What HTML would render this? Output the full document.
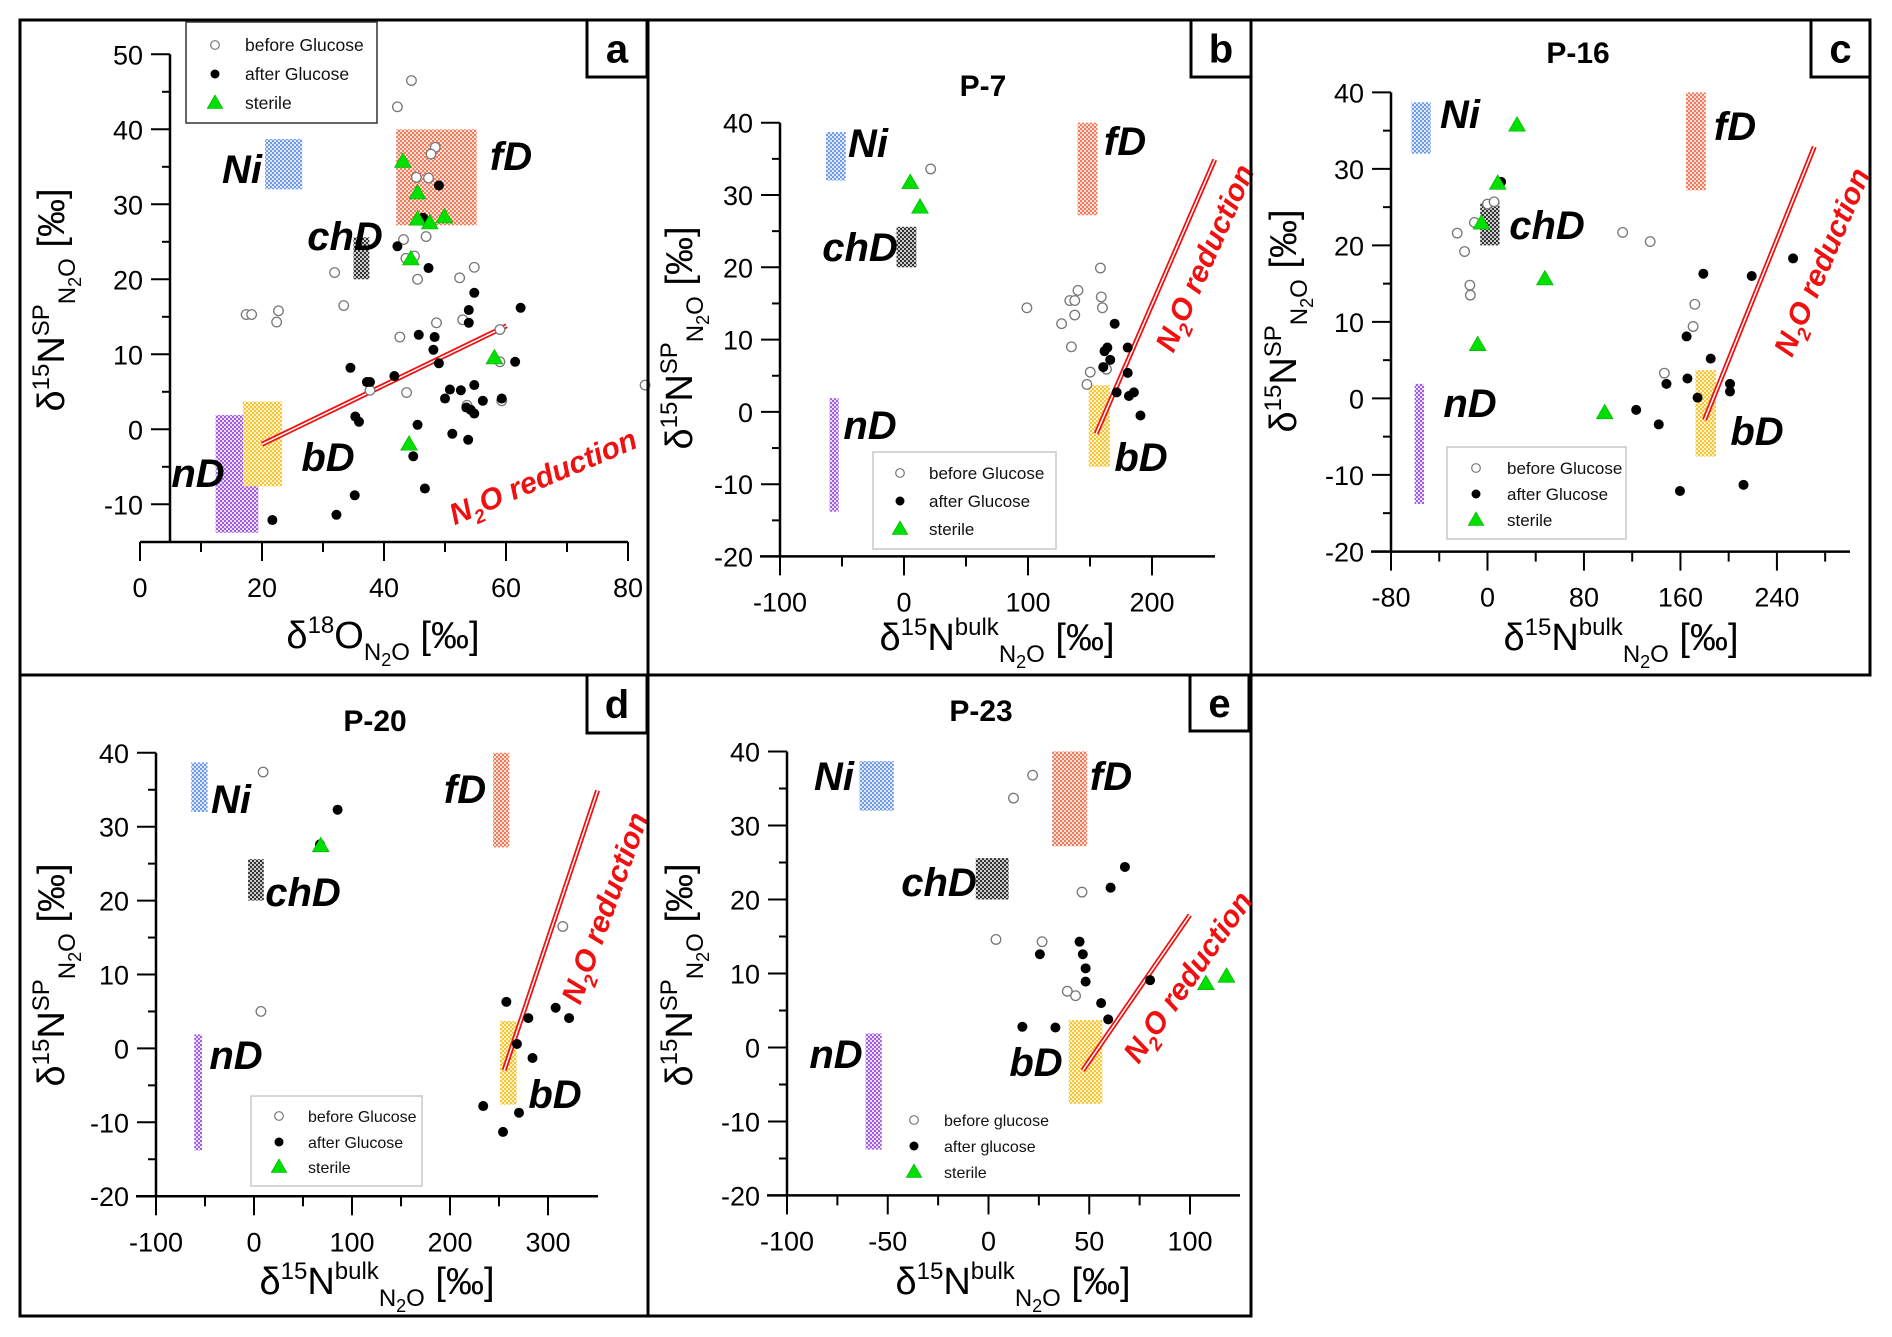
<!DOCTYPE html>
<html><head><meta charset="utf-8"><style>
html,body{margin:0;padding:0;background:#fff;}
svg{display:block;font-family:"Liberation Sans",Arial,sans-serif;}
</style></head><body>
<svg id="fig" width="1892" height="1337" viewBox="0 0 1892 1337" xmlns="http://www.w3.org/2000/svg">
<defs>
<pattern id="pNi" width="4" height="4" patternUnits="userSpaceOnUse"><rect width="4" height="4" fill="#dfe9fb"/><rect width="2" height="2" fill="#6f9ae8"/><rect x="2" y="2" width="2" height="2" fill="#6f9ae8"/></pattern>
<pattern id="pfD" width="4" height="4" patternUnits="userSpaceOnUse"><rect width="4" height="4" fill="#fbe0d8"/><rect width="2" height="2" fill="#f07a5a"/><rect x="2" y="2" width="2" height="2" fill="#f07a5a"/></pattern>
<pattern id="pchD" width="4" height="4" patternUnits="userSpaceOnUse"><rect width="4" height="4" fill="#ccc"/><rect width="2" height="2" fill="#333"/><rect x="2" y="2" width="2" height="2" fill="#333"/></pattern>
<pattern id="pnD" width="4" height="4" patternUnits="userSpaceOnUse"><rect width="4" height="4" fill="#eadcf8"/><rect width="2" height="2" fill="#a05ee0"/><rect x="2" y="2" width="2" height="2" fill="#a05ee0"/></pattern>
<pattern id="pbD" width="4" height="4" patternUnits="userSpaceOnUse"><rect width="4" height="4" fill="#fdf1c8"/><rect width="2" height="2" fill="#f5c535"/><rect x="2" y="2" width="2" height="2" fill="#f5c535"/></pattern>
</defs>
<g id="root"></g>
</svg>
<script>
// ---------- data (x, y) per panel ----------
const aBefore = [[44.5,46.5],[42.2,43.0],[48.4,37.6],[47.7,36.7],[45.3,33.6],[47.3,33.5],[43.2,25.3],[46.9,25.7],[43.6,22.8],[45.0,23.1],[45.5,20.0],[31.9,20.9],[52.4,20.2],[54.8,21.6],[17.4,15.3],[18.3,15.3],[22.7,15.8],[22.4,14.3],[33.4,16.5],[48.6,14.2],[52.9,14.6],[42.6,12.3],[59.0,13.3],[59.0,9.0],[43.7,4.9],[59.3,3.8],[53.6,3.2],[37.7,5.2],[82.8,5.9]];
const aAfter = [[49.0,32.5],[46.4,28.2],[42.2,24.4],[47.3,21.5],[54.8,18.2],[53.9,15.9],[53.9,14.2],[62.4,16.2],[45.7,12.6],[48.3,12.3],[48.1,10.6],[49.0,8.8],[34.5,8.2],[41.7,7.1],[37.2,6.3],[37.7,6.3],[61.5,9.0],[50.8,5.3],[52.6,5.2],[50.0,4.1],[54.8,5.9],[56.2,3.8],[59.3,4.1],[53.5,2.9],[54.2,2.6],[54.8,2.1],[35.3,1.7],[35.9,1.0],[45.5,0.6],[51.2,-0.6],[53.8,-1.4],[44.8,-3.6],[46.7,-7.9],[35.2,-8.8],[32.2,-11.4],[21.7,-12.1]];
const aSterile = [[43.1,35.7],[45.5,31.5],[45.5,28.0],[47.5,27.5],[49.9,28.3],[44.4,22.7],[44.1,-2.0],[58.1,9.5]];
const bBefore = [[21.5,33.6],[158.4,19.9],[99.1,14.4],[140.3,16.8],[133.7,15.4],[137.7,15.4],[159.1,15.9],[160.0,14.4],[127.1,12.2],[137.7,13.4],[135.0,9.0],[150.2,5.5],[147.5,3.8],[163.3,5.9]];
const bAfter = [[169.9,12.2],[164.0,8.9],[161.7,8.4],[180.4,8.9],[166.3,7.2],[160.7,6.2],[180.4,5.4],[171.5,2.7],[181.4,2.2],[185.4,2.7],[190.7,-0.5]];
const bSterile = [[5.0,31.7],[12.9,28.3]];
const cBefore = [[-25.1,21.6],[-19.0,19.2],[-14.6,14.8],[-14.2,13.5],[-10.8,23.0],[0.0,25.4],[5.5,25.7],[112.1,21.7],[134.9,20.5],[171.9,12.3],[170.5,9.4],[146.7,3.3]];
const cAfter = [[11.3,28.3],[179.0,16.3],[219.1,16.0],[253.4,18.3],[165.1,8.1],[185.1,5.2],[165.8,2.6],[148.4,1.9],[201.1,1.9],[201.1,0.9],[174.2,0.1],[123.3,-1.5],[142.0,-3.4],[159.6,-12.1],[212.3,-11.3]];
const cSterile = [[24.5,35.7],[8.5,28.1],[-5.0,22.9],[47.6,15.6],[-8.1,7.0],[97.2,-1.9]];
const dBefore = [[9.3,37.4],[7.1,5.0],[315.1,16.5]];
const dAfter = [[85.3,32.3],[67.3,27.6],[257.5,6.3],[279.9,4.1],[307.8,5.5],[321.5,4.1],[268.3,0.6],[284.2,-1.3],[233.9,-7.8],[270.4,-8.7],[254.1,-11.3]];
const dSterile = [[68.1,27.4]];
const eBefore = [[21.9,36.8],[12.4,33.7],[46.4,21.0],[3.7,14.6],[26.6,14.3],[39.1,7.6],[43.2,7.0]];
const eAfter = [[67.7,24.4],[60.6,21.6],[45.2,14.3],[46.8,12.6],[48.2,10.7],[48.2,8.9],[25.5,12.6],[55.9,6.0],[59.4,3.8],[16.8,2.8],[33.2,2.7],[80.2,9.1]];
const eSterile = [[107.9,8.6],[118.1,9.6]];
// source regions: [xmin,xmax] per panel, shared SP ranges
const regionNames = ["Ni","fD","chD","nD","bD"];
const regionSP = [[32,38.7],[27.2,40],[20,25.6],[-13.8,1.9],[-7.6,3.7]];
const aRegionX = [[20.5,26.6],[42,55.2],[35,37.6],[12.4,19.4],[16.9,23.3]];
const bRegionX = [[-63,-47],[140,156],[-6,10],[-60,-52.6],[149,166]];
const cRegionX = [[-63,-47],[164.6,181],[-6,10],[-60.4,-52.6],[172.5,189.5]];
const dRegionX = [[-64,-47.4],[244,260.5],[-6,10],[-61,-53],[251,268]];
const eRegionX = [[-64,-47],[31.6,49],[-6.3,10],[-61,-53],[39.8,56.5]];
// N2O reduction lines [x1,y1,x2,y2]
const aRedLine = [20,-2.0,60.1,13.8];
const bRedLine = [155,-3,250.6,34.9];
const cRedLine = [180,-2.8,271,32.9];
const dRedLine = [255.3,-2.95,350.6,34.9];
const eRedLine = [46.8,-3.1,99.9,17.9];
// tick definitions
const aXTickLabels = [0,20,40,60,80];
const bXTickLabels = [-100,0,100,200];
const cXTickLabels = [-80,0,80,160,240];
const dXTickLabels = [-100,0,100,200,300];
const eXTickLabels = [-100,-50,0,50,100];

const NS="http://www.w3.org/2000/svg";
const root=document.getElementById('root');
function el(tag,attrs,parent){const e=document.createElementNS(NS,tag);for(const k in attrs)e.setAttribute(k,attrs[k]);(parent||root).appendChild(e);return e;}

const panels=[
 {id:'a',frame:[20,20,628,655],lab:[587,20,60,57],title:null,
  x0:140,xv0:0,kx:6.1,y0:429.3,ky:7.5,yAxX:170,yTop:54.3,yBot:542,xAxY:542,xStart:140,xEnd:628,
  xt:[0,80,10],yt:[-10,50,5],xl:aXTickLabels,yl:[-10,0,10,20,30,40,50],
  before:aBefore,after:aAfter,sterile:aSterile,rx:aRegionX,red:aRedLine,
  rl:{Ni:[242,169],fD:[511,156],chD:[345,236],nD:[198,473],bD:[328,457]},
  n2o:[543,477,-23],ytitle:[50,300],xtitle:[383,656],xo:true,
  leg:{box:[186,22,191,101],mx:215,tx:245,rows:[45,74,103],fs:17.5,stroke:'#333',labels:['before Glucose','after Glucose','sterile']}},
 {id:'b',frame:[648,20,603,655],lab:[1191,20,60,57],title:['P-7',983,85],
  x0:780,xv0:-100,kx:1.24,y0:411.9,ky:7.23,yAxX:780,yTop:122.7,yBot:556.4,xAxY:556.4,xStart:780,xEnd:1215,
  xt:[-100,200,50],yt:[-20,40,5],xl:bXTickLabels,yl:[-20,-10,0,10,20,30,40],
  before:bBefore,after:bAfter,sterile:bSterile,rx:bRegionX,red:bRedLine,
  rl:{Ni:[868,143],fD:[1125,141],chD:[860,247],nD:[870,425],bD:[1141,457]},
  n2o:[1205,258,-66],ytitle:[678,338],xtitle:[997,658],
  leg:{box:[873,452,183,97],mx:900,tx:929,rows:[473,501,529],fs:17,stroke:'#c8c8c8',labels:['before Glucose','after Glucose','sterile']}},
 {id:'c',frame:[1251,20,619,655],lab:[1811,20,59,57],title:['P-16',1578,52],
  x0:1391,xv0:-80,kx:1.206,y0:398.4,ky:7.65,yAxX:1391,yTop:92.4,yBot:551.6,xAxY:551.6,xStart:1391,xEnd:1850,
  xt:[-80,280,40],yt:[-20,40,5],xl:cXTickLabels,yl:[-20,-10,0,10,20,30,40],
  before:cBefore,after:cAfter,sterile:cSterile,rx:cRegionX,red:cRedLine,
  rl:{Ni:[1460,114],fD:[1735,126],chD:[1547,225],nD:[1470,403],bD:[1757,431]},
  n2o:[1822,262,-67],ytitle:[1282,321],xtitle:[1621,658],
  leg:{box:[1447,447,179,92],mx:1476,tx:1507,rows:[468,494,520],fs:17,stroke:'#c8c8c8',labels:['before Glucose','after Glucose','sterile']}},
 {id:'d',frame:[20,675,628,641],lab:[587,675,60,58],title:['P-20',375,720],
  x0:156,xv0:-100,kx:0.98,y0:1048.4,ky:7.39,yAxX:156,yTop:752.8,yBot:1196.3,xAxY:1196.3,xStart:156,xEnd:598,
  xt:[-100,300,50],yt:[-20,40,5],xl:dXTickLabels,yl:[-20,-10,0,10,20,30,40],
  before:dBefore,after:dAfter,sterile:dSterile,rx:dRegionX,red:dRedLine,
  rl:{Ni:[231,799],fD:[465,789],chD:[303,892],nD:[236,1055],bD:[555,1094]},
  n2o:[605,908,-70],ytitle:[50,975],xtitle:[377,1302],
  leg:{box:[251,1096,171,90],mx:279,tx:308,rows:[1116,1142,1167],fs:16,stroke:'#c8c8c8',labels:['before Glucose','after Glucose','sterile']}},
 {id:'e',frame:[648,675,603,641],lab:[1190,675,59,56],title:['P-23',981,710],
  x0:787,xv0:-100,kx:2.015,y0:1047.5,ky:7.4,yAxX:787,yTop:751.5,yBot:1195.4,xAxY:1195.4,xStart:787,xEnd:1240,
  xt:[-100,100,25],yt:[-20,40,5],xl:eXTickLabels,yl:[-20,-10,0,10,20,30,40],
  before:eBefore,after:eAfter,sterile:eSterile,rx:eRegionX,red:eRedLine,
  rl:{Ni:[834,776],fD:[1111,776],chD:[939,882],nD:[836,1054],bD:[1036,1062]},
  n2o:[1188,977,-55],ytitle:[678,975],xtitle:[1013,1302],
  leg:{box:null,mx:914,tx:944,rows:[1120,1146,1172],fs:16,stroke:'none',labels:['before glucose','after glucose','sterile']}}
];

function tri(g,cx,cy,s,name){
  const p=el('polygon',{points:`${cx},${cy-s*0.62} ${cx-s*0.6},${cy+s*0.42} ${cx+s*0.6},${cy+s*0.42}`,fill:'#00e000',stroke:'#00b000','stroke-width':0.6},g);
  
  
  return p;
}

panels.forEach(P=>{
  const g=el('g',{});
  
  
  const X=v=>P.x0+(v-P.xv0)*P.kx;
  const Y=v=>P.y0-v*P.ky;
  const fr=el('rect',{x:P.frame[0],y:P.frame[1],width:P.frame[2],height:P.frame[3],fill:'none',stroke:'#000','stroke-width':3},g);
  
  
  regionNames.forEach((n,i)=>{
    const x1=X(P.rx[i][0]),x2=X(P.rx[i][1]),y1=Y(regionSP[i][1]),y2=Y(regionSP[i][0]);
    const r=el('rect',{x:x1,y:y1,width:x2-x1,height:y2-y1,fill:'url(#p'+n+')'},g);
    
    
    const t=el('text',{x:P.rl[n][0],y:P.rl[n][1]+14,'text-anchor':'middle','font-size':40,'font-weight':'bold','font-style':'italic',fill:'#000'},g);
    t.textContent=n;
    
    
  });
  const ya=el('line',{x1:P.yAxX,y1:P.yTop,x2:P.yAxX,y2:P.yBot,stroke:'#000','stroke-width':2.5},g);
  
  
  const xa=el('line',{x1:P.xStart-(P.xo?0:20),y1:P.xAxY,x2:P.xEnd,y2:P.xAxY,stroke:'#000','stroke-width':2.5},g);
  
  
  for(let v=P.xt[0];v<=P.xt[1]+1e-6;v+=P.xt[2]){
    const maj=P.xl.indexOf(v)>=0;
    const tk=el('line',{x1:X(v),y1:P.xAxY,x2:X(v),y2:P.xAxY+(maj?19:10),stroke:'#000','stroke-width':2},g);
    
    
  }
  P.xl.forEach(v=>{
    const t=el('text',{x:X(v),y:P.xAxY+55,'text-anchor':'middle','font-size':27,fill:'#000'},g);
    t.textContent=String(v);
    
    
  });
  for(let v=P.yt[0];v<=P.yt[1]+1e-6;v+=P.yt[2]){
    const maj=P.yl.indexOf(v)>=0;
    const tk=el('line',{x1:P.yAxX-(maj?19:8),y1:Y(v),x2:P.yAxX,y2:Y(v),stroke:'#000','stroke-width':2},g);
    
    
  }
  P.yl.forEach(v=>{
    const t=el('text',{x:P.yAxX-27,y:Y(v)+10,'text-anchor':'end','font-size':27,fill:'#000'},g);
    t.textContent=String(v);
    
    
  });
  const rl=P.red;
  const l1=el('line',{x1:X(rl[0]),y1:Y(rl[1]),x2:X(rl[2]),y2:Y(rl[3]),stroke:'#f01010','stroke-width':5},g);
  
  
  el('line',{x1:X(rl[0]),y1:Y(rl[1]),x2:X(rl[2]),y2:Y(rl[3]),stroke:'#fff','stroke-width':1.5},g);
  const nt=el('text',{transform:`translate(${P.n2o[0]},${P.n2o[1]}) rotate(${P.n2o[2]})`,'text-anchor':'middle','font-size':30,'font-weight':'bold','font-style':'italic',fill:'#f01010',dy:10},g);
  nt.innerHTML='N<tspan font-size="19" dy="8">2</tspan><tspan dy="-8">O reduction</tspan>';
  
  
  P.before.forEach(p=>{
    const c=el('circle',{cx:X(p[0]),cy:Y(p[1]),r:4.8,fill:'#fff',stroke:'#777','stroke-width':1.3},g);
    
    
  });
  P.after.forEach(p=>{
    const c=el('circle',{cx:X(p[0]),cy:Y(p[1]),r:5,fill:'#000'},g);
    
    
  });
  P.sterile.forEach(p=>{tri(g,X(p[0]),Y(p[1]),14,'point-sterile');});
  const lb=el('rect',{x:P.lab[0],y:P.lab[1],width:P.lab[2],height:P.lab[3],fill:'#fff',stroke:'#000','stroke-width':3},g);
  
  
  const lt=el('text',{x:P.lab[0]+P.lab[2]/2,y:P.lab[1]+P.lab[3]/2+14,'text-anchor':'middle','font-size':40,'font-weight':'bold'},g);
  lt.textContent=P.id;
  
  
  if(P.title){
    const tt=el('text',{x:P.title[1],y:P.title[2]+11,'text-anchor':'middle','font-size':30,'font-weight':'bold'},g);
    tt.textContent=P.title[0];
    
    
  }
  const yt=el('text',{transform:`translate(${P.ytitle[0]+14},${P.ytitle[1]}) rotate(-90)`,'text-anchor':'middle','font-size':38},g);
  yt.innerHTML='δ<tspan font-size="24" dy="-15">15</tspan><tspan dy="15">N</tspan><tspan font-size="24" dy="-15">SP</tspan><tspan font-size="24" dy="26">N</tspan><tspan font-size="18" dy="6">2</tspan><tspan font-size="24" dy="-6">O</tspan><tspan dy="-11"> [‰]</tspan>';
  
  
  const xt=el('text',{x:P.xtitle[0],y:P.xtitle[1]-8,'text-anchor':'middle','font-size':38},g);
  if(P.id==='a') xt.innerHTML='δ<tspan font-size="24" dy="-15">18</tspan><tspan dy="15">O</tspan><tspan font-size="24" dy="12">N</tspan><tspan font-size="18" dy="6">2</tspan><tspan font-size="24" dy="-6">O</tspan><tspan dy="-12"> [‰]</tspan>';
  else xt.innerHTML='δ<tspan font-size="24" dy="-15">15</tspan><tspan dy="15">N</tspan><tspan font-size="24" dy="-15">bulk</tspan><tspan font-size="24" dy="27">N</tspan><tspan font-size="18" dy="6">2</tspan><tspan font-size="24" dy="-6">O</tspan><tspan dy="-12"> [‰]</tspan>';
  
  
  const L=P.leg;
  const lg=el('g',{},g);
  
  
  if(L.box){el('rect',{x:L.box[0],y:L.box[1],width:L.box[2],height:L.box[3],fill:'#fff',stroke:L.stroke,'stroke-width':1.5},lg);}
  el('circle',{cx:L.mx,cy:L.rows[0],r:4.3,fill:'#fff',stroke:'#777','stroke-width':1.2},lg);
  el('circle',{cx:L.mx,cy:L.rows[1],r:4.5,fill:'#000'},lg);
  tri(lg,L.mx,L.rows[2],13,'legend-marker-sterile');
  L.labels.forEach((s,i)=>{
    const t=el('text',{x:L.tx,y:L.rows[i]+6,'font-size':L.fs,fill:'#111'},lg);
    t.textContent=s;
    
    
  });
});
</script>
</body></html>
